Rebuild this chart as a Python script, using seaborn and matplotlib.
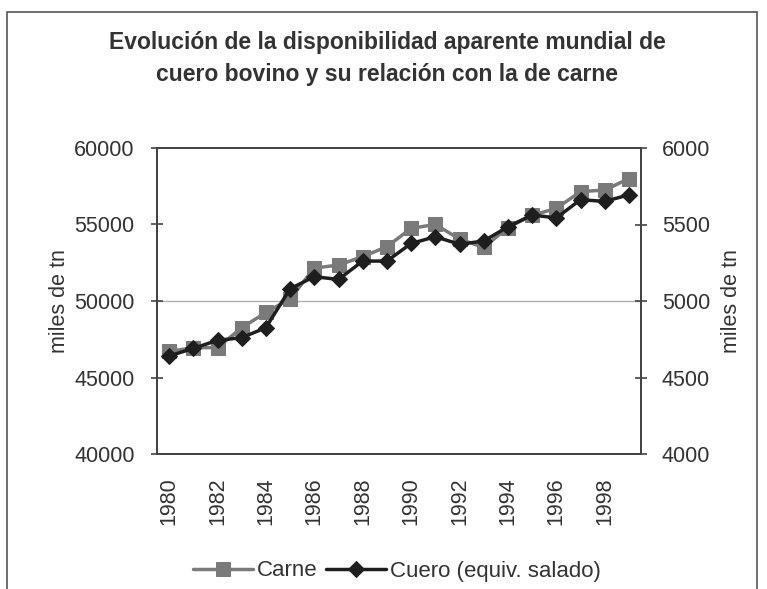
import numpy as np
import pandas as pd
import matplotlib
matplotlib.use('Agg')
import matplotlib.pyplot as plt
import seaborn as sns
from matplotlib.patches import Rectangle

# Values
years = list(range(1980, 2000))
carne = [46700, 46950, 46950, 48250, 49250, 50150, 52150, 52350, 52900, 53550,
         54750, 55000, 54050, 53500, 54800, 55600, 56050, 57150, 57250, 58000]
cuero = [4641, 4690, 4743, 4760, 4826, 5080, 5159, 5141, 5261, 5261,
         5376, 5420, 5371, 5392, 5485, 5562, 5543, 5662, 5651, 5694]

df = pd.DataFrame({'year': years, 'Carne': carne, 'Cuero': cuero})

sns.set_style('white')
plt.rcParams['font.family'] = ['Liberation Sans', 'DejaVu Sans']
plt.rcParams['text.color'] = '#333333'
plt.rcParams['axes.labelcolor'] = '#333333'
plt.rcParams['xtick.color'] = '#333333'
plt.rcParams['ytick.color'] = '#333333'

fig = plt.figure(figsize=(7.67, 5.89), dpi=100)
ax = fig.add_axes([157 / 767, 1 - 454 / 589, (641 - 157) / 767, (454 - 148) / 589])
ax2 = ax.twinx()

sns.lineplot(data=df, x='year', y='Carne', ax=ax, color='#7a7a7a', lw=2.5,
             marker='s', markersize=9.5, markeredgecolor='#7a7a7a', label='Carne', legend=False)
sns.lineplot(data=df, x='year', y='Cuero', ax=ax2, color='#1e1e1e', lw=2.5,
             marker='D', markersize=8.5, markeredgecolor='#1e1e1e',
             label='Cuero (equiv. salado)', legend=False)

ax.set_xlim(1979.5, 1999.5)
ax.set_ylim(40000, 60000)
ax2.set_ylim(4000, 6000)
ax.set_yticks(range(40000, 60001, 5000))
ax2.set_yticks(range(4000, 6001, 500))
ax.set_xticks(years[::2])
ax.set_xticks(np.arange(1979.5, 2000, 1), minor=True)
ax.tick_params(axis='x', which='major', length=0, labelrotation=90, labelsize=15.5, pad=17)
ax.tick_params(axis='x', which='minor', length=8, direction='inout', width=1.2, color='#444444')
ax.tick_params(axis='y', length=8, direction='inout', width=1.2, labelsize=15.5, pad=12, color='#444444')
ax2.tick_params(axis='y', length=8, direction='inout', width=1.2, labelsize=15.5, pad=11, color='#444444')

ax.axhline(50000, color='#b0b0b0', lw=1, zorder=0)

ax.set_xlabel('')
ax.set_ylabel('miles de tn', fontsize=15.5, labelpad=3)
ax2.set_ylabel('miles de tn', fontsize=15.5, labelpad=8)
ax2.yaxis.label.set_rotation(90)

for a in (ax, ax2):
    for s in a.spines.values():
        s.set_color('#444444')
        s.set_linewidth(1.4)

fig.text(0.505, 1 - 58 / 589, 'Evolución de la disponibilidad aparente mundial de\ncuero bovino y su relación con la de carne',
         ha='center', va='center', fontsize=16.5, fontweight='bold', linespacing=1.5)

h1, l1 = ax.get_legend_handles_labels()
h2, l2 = ax2.get_legend_handles_labels()
fig.legend(h1 + h2, l1 + l2, loc='center', bbox_to_anchor=(397 / 767, 1 - 571 / 589), ncol=2,
           frameon=False, fontsize=16, handlelength=2.7, handletextpad=0.2, columnspacing=0.35,
           borderaxespad=0, borderpad=0)

fig.patches.append(Rectangle((7 / 767, -0.1), (757 - 7) / 767, 1.1 - 12 / 589,
                             transform=fig.transFigure, fill=False, edgecolor='#555555', lw=1.2))

fig.savefig('out.png', dpi=100)
